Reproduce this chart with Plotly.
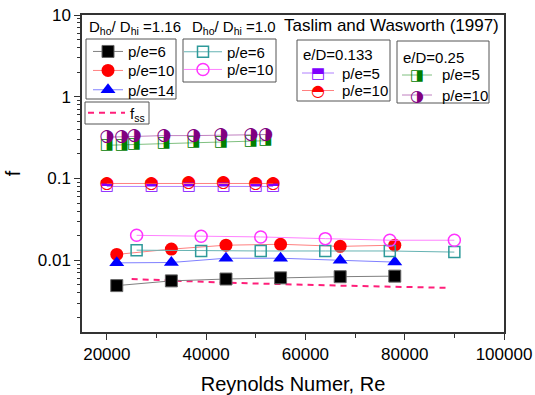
import plotly.graph_objects as go

# ---- data ----
re_a = [22000, 33000, 44000, 55000, 67000, 78000]
f_116_pe6 = [0.0049, 0.0056, 0.0059, 0.0061, 0.0063, 0.0064]
f_116_pe10 = [0.0118, 0.0137, 0.0153, 0.0157, 0.0148, 0.0153]
f_116_pe14 = [0.0093, 0.0094, 0.0106, 0.0106, 0.0100, 0.0095]

re_b = [26000, 39000, 51000, 64000, 77000, 90000]
f_10_pe6 = [0.0133, 0.0130, 0.0130, 0.0130, 0.0130, 0.0126]
f_10_pe10 = [0.0202, 0.0197, 0.0193, 0.0184, 0.0176, 0.0176]

re_fss = [25000, 45000, 67000, 89000]
f_ss = [0.0059, 0.0053, 0.0049, 0.0046]

re_c = [20000, 23000, 25500, 31500, 37500, 43000, 49000, 52000]
f_025_pe5 = [0.255, 0.258, 0.265, 0.270, 0.275, 0.280, 0.285, 0.290]
f_025_pe10 = [0.320, 0.325, 0.330, 0.335, 0.335, 0.340, 0.340, 0.345]

re_d = [20000, 29000, 36500, 43500, 50000, 53500]
f_0133_pe5 = [0.080, 0.080, 0.080, 0.080, 0.080, 0.080]
f_0133_pe10 = [0.087, 0.087, 0.088, 0.088, 0.087, 0.087]

x_ticks = [20000, 40000, 60000, 80000, 100000]

FONT = "Arial, Liberation Sans, sans-serif"
GLYPH_FONT = "DejaVu Sans"

W, H = 535, 395
ML, MR, MT, MB = 82, 31, 15, 63
PW, PH = W - ML - MR, H - MT - MB


def px(x):
    """screen pixel x -> paper fraction (layout placement only)"""
    return (x - ML) / PW


def py(y):
    """screen pixel y -> paper fraction (layout placement only)"""
    return 1 - (y - MT) / PH


fig = go.Figure()

# fss dashed line
fig.add_trace(go.Scatter(x=re_fss, y=f_ss, mode="lines", name="f<sub>ss</sub>",
                         line=dict(color="#FF1F7A", width=2, dash="6px,5px"),
                         legend="legend4"))

# Dho/Dhi = 1.16
fig.add_trace(go.Scatter(x=re_a, y=f_116_pe6, mode="lines+markers", name="p/e=6",
                         line=dict(color="#808080", width=1),
                         marker=dict(symbol="square", size=12, color="black",
                                     line=dict(color="#666666", width=1)),
                         legend="legend"))
fig.add_trace(go.Scatter(x=re_a, y=f_116_pe10, mode="lines+markers", name="p/e=10",
                         line=dict(color="#FF8080", width=1),
                         marker=dict(symbol="circle", size=13, color="#FF0000",
                                     line=dict(width=0)),
                         legend="legend2"))
fig.add_trace(go.Scatter(x=re_a, y=f_116_pe14, mode="lines+markers", name="p/e=14",
                         line=dict(color="#8080FF", width=1),
                         marker=dict(symbol="triangle-up", size=13, color="#0000FF",
                                     line=dict(width=0)),
                         legend="legend3"))

# Dho/Dhi = 1.0
fig.add_trace(go.Scatter(x=re_b, y=f_10_pe6, mode="lines+markers", name="p/e=6",
                         line=dict(color="#66B3B3", width=1),
                         marker=dict(symbol="square-open", size=11, color="#2E9A9A",
                                     line=dict(width=1.5)),
                         legend="legend5"))
fig.add_trace(go.Scatter(x=re_b, y=f_10_pe10, mode="lines+markers", name="p/e=10",
                         line=dict(color="#FF80FF", width=1),
                         marker=dict(symbol="circle-open", size=12, color="#FF33FF",
                                     line=dict(width=1.5)),
                         legend="legend6"))

# e/D = 0.133 (half-filled symbols drawn as glyphs)
fig.add_trace(go.Scatter(x=re_d, y=f_0133_pe5, mode="lines+text", text=["⬒"] * len(re_d),
                         textposition="middle center",
                         textfont=dict(family=GLYPH_FONT, size=15, color="#8000FF"),
                         line=dict(color="#B080FF", width=1), showlegend=False))
fig.add_trace(go.Scatter(x=re_d, y=f_0133_pe10, mode="lines+text", text=["◓"] * len(re_d),
                         textposition="middle center",
                         textfont=dict(family=GLYPH_FONT, size=17, color="#FF0000"),
                         line=dict(color="#FF8080", width=1), showlegend=False))

# e/D = 0.25
fig.add_trace(go.Scatter(x=re_c, y=f_025_pe5, mode="lines+text", text=["◨"] * len(re_c),
                         textposition="middle center",
                         textfont=dict(family=GLYPH_FONT, size=15, color="#008000"),
                         line=dict(color="#80C080", width=1), showlegend=False))
fig.add_trace(go.Scatter(x=re_c, y=f_025_pe10, mode="lines+text", text=["◑"] * len(re_c),
                         textposition="middle center",
                         textfont=dict(family=GLYPH_FONT, size=17, color="#800080"),
                         line=dict(color="#C080C0", width=1), showlegend=False))


def leg(left_px, yc_px, itemwidth=30):
    return dict(x=px(left_px), y=py(yc_px), xanchor="left", yanchor="middle",
                bgcolor="rgba(255,255,255,0)", borderwidth=0,
                font=dict(family=FONT, size=15, color="black"),
                itemwidth=itemwidth)


fig.update_layout(
    width=W, height=H,
    margin=dict(l=ML, r=MR, t=MT, b=MB, autoexpand=False),
    paper_bgcolor="white", plot_bgcolor="white",
    font=dict(family=FONT, size=17, color="black"),
    legend=leg(88, 51.7),
    legend2=leg(88, 70.7),
    legend3=leg(88, 90),
    legend4=leg(83, 113, 37),
    legend5=leg(179, 52, 38),
    legend6=leg(179, 69.7, 38),
    xaxis=dict(range=[15000, 100000], tickvals=x_ticks,
               ticktext=[str(v) for v in x_ticks],
               ticks="outside", ticklen=6, tickwidth=1, tickcolor="#333333",
               minor=dict(dtick=10000, tick0=0, ticks="outside", ticklen=4, tickcolor="#333333"),
               showline=True, linecolor="#333333", linewidth=1.5, mirror=True,
               showgrid=False, zeroline=False, automargin=False,
               ticklabeloverflow="allow",
               tickfont=dict(size=17),
               title=dict(text="Reynolds Numer, Re", font=dict(size=20), standoff=14)),
    yaxis=dict(type="log", range=[-2.877, 1], tickmode="linear", tick0=0, dtick=1,
               ticks="outside", ticklen=6, tickwidth=1, tickcolor="#333333",
               minor=dict(ticks="outside", ticklen=3, dtick="D1", tickcolor="#333333"),
               showline=True, linecolor="#333333", linewidth=1.5, mirror=True,
               showgrid=False, zeroline=False, automargin=False,
               ticklabeloverflow="allow",
               tickfont=dict(size=17),
               title=dict(text="f", font=dict(size=20), standoff=12)),
)

# legend frames
BOX = "#555555"
for (x0, y0, x1, y1) in [(86, 39, 176, 99), (85, 102, 149, 124), (183, 39, 276, 82),
                         (297, 40, 390, 101), (397, 41, 489, 103)]:
    fig.add_shape(type="rect", xref="paper", yref="paper",
                  x0=px(x0), x1=px(x1), y0=py(y0), y1=py(y1),
                  line=dict(color=BOX, width=1), fillcolor="rgba(0,0,0,0)")

ann_font = dict(family=FONT, size=15, color="black")


def label(x, y, text, anchor="left", font=None):
    fig.add_annotation(xref="paper", yref="paper", x=px(x), y=py(y), xanchor=anchor,
                       yanchor="middle", text=text, showarrow=False,
                       font=font or ann_font)


label(87, 28, "D<sub>ho</sub>/ D<sub>hi</sub> =1.16")
label(190, 28, "D<sub>ho</sub>/ D<sub>hi</sub> =1.0")
label(391, 25, "Taslim and Wasworth (1997)", anchor="center",
      font=dict(family=FONT, size=17, color="black"))

# half-filled legend entries (line shape + glyph + label)
label(301, 54, "e/D=0.133")
label(401, 57, "e/D=0.25")
for (x0, x1, xc, xt, y, col, lcol, glyph, gsize, txt) in [
    (302, 334, 318, 340, 73, "#8000FF", "#B080FF", "⬒", 15, "p/e=5"),
    (302, 334, 318, 340, 90.5, "#FF0000", "#FF8080", "◓", 16, "p/e=10"),
    (402, 432, 417, 440, 75, "#008000", "#80C080", "◨", 15, "p/e=5"),
    (402, 432, 417, 440, 95, "#800080", "#C080C0", "◑", 16, "p/e=10"),
]:
    fig.add_shape(type="line", xref="paper", yref="paper", x0=px(x0), x1=px(x1),
                  y0=py(y), y1=py(y), line=dict(color=lcol, width=1))
    label(xc, y, glyph, anchor="center", font=dict(family=GLYPH_FONT, size=gsize, color=col))
    label(xt, y, txt)

fig.write_html("out.html",
               config={"displayModeBar": False},
               post_script="document.body.style.margin='0';document.body.style.overflow='hidden';")
